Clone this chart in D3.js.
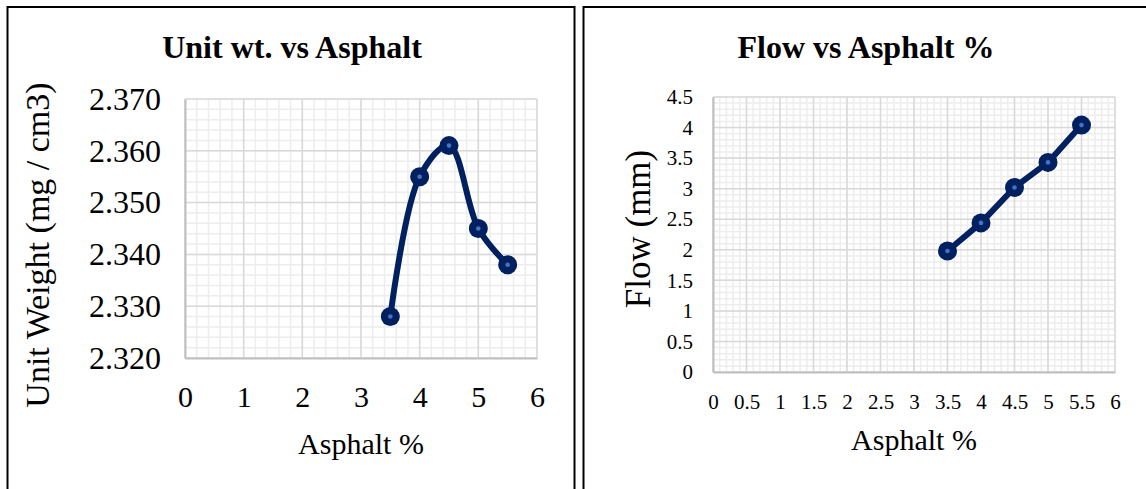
<!DOCTYPE html>
<html>
<head>
<meta charset="utf-8">
<script src="https://cdn.jsdelivr.net/npm/d3@7"></script>
<style>
  html, body { margin: 0; padding: 0; background: #fff; }
  svg { display: block; font-family: "Liberation Serif", "Times New Roman", serif; }
</style>
</head>
<body>
<svg id="chart" width="1146" height="489"></svg>
<script>
// Asphalt content (%) tested
const asphalt = [3.5, 4, 4.5, 5, 5.5];
// Unit weight (mg / cm3) per asphalt content
const unitWeight = [2.328, 2.355, 2.361, 2.345, 2.338];
// Flow (mm) per asphalt content
const flow = [1.98, 2.44, 3.02, 3.43, 4.04];

// Tick values
const unitXTicks = [0, 1, 2, 3, 4, 5, 6];
const unitYTicks = [2.320, 2.330, 2.340, 2.350, 2.360, 2.370];
const flowXTicks = [0, 0.5, 1, 1.5, 2, 2.5, 3, 3.5, 4, 4.5, 5, 5.5, 6];
const flowYTicks = [0, 0.5, 1, 1.5, 2, 2.5, 3, 3.5, 4, 4.5];

const svg = d3.select("#chart");
const lineColor = "#002060";
const dotColor = "#4472c4";

// Panel frames
svg.append("path")
  .attr("d", "M7.5,489 V7 H574.5 V489")
  .attr("fill", "none").attr("stroke", "#000").attr("stroke-width", 2);
svg.append("path")
  .attr("d", "M583.5,489 V7 H1146")
  .attr("fill", "none").attr("stroke", "#000").attr("stroke-width", 2);

function drawChart(cfg) {
  const g = svg.append("g");
  const x = d3.scaleLinear().domain(cfg.xDomain).range([cfg.left, cfg.right]);
  const y = d3.scaleLinear().domain(cfg.yDomain).range([cfg.bottom, cfg.top]);

  // minor gridlines
  const xMinor = d3.range(cfg.xDomain[0], cfg.xDomain[1] + 1e-9, cfg.xMinor);
  const yMinor = d3.range(cfg.yDomain[0], cfg.yDomain[1] + 1e-9, cfg.yMinor);
  g.append("g").selectAll("line").data(xMinor).join("line")
    .attr("x1", d => x(d)).attr("x2", d => x(d))
    .attr("y1", cfg.top).attr("y2", cfg.bottom)
    .attr("stroke", "#ededed").attr("stroke-width", 1.5);
  g.append("g").selectAll("line").data(yMinor).join("line")
    .attr("y1", d => y(d)).attr("y2", d => y(d))
    .attr("x1", cfg.left).attr("x2", cfg.right)
    .attr("stroke", "#ededed").attr("stroke-width", 1.5);

  // major gridlines
  g.append("g").selectAll("line").data(cfg.xTicks).join("line")
    .attr("x1", d => x(d)).attr("x2", d => x(d))
    .attr("y1", cfg.top).attr("y2", cfg.bottom)
    .attr("stroke", "#d9d9d9").attr("stroke-width", 1.5);
  g.append("g").selectAll("line").data(cfg.yTicks).join("line")
    .attr("y1", d => y(d)).attr("y2", d => y(d))
    .attr("x1", cfg.left).attr("x2", cfg.right)
    .attr("stroke", "#d9d9d9").attr("stroke-width", 1.5);

  // axes
  const xAxis = g.append("g").attr("transform", `translate(0,${cfg.bottom})`)
    .call(d3.axisBottom(x).tickValues(cfg.xTicks).tickSize(0).tickPadding(cfg.xPad)
      .tickFormat(cfg.xFormat));
  xAxis.select(".domain").attr("stroke", "#bfbfbf").attr("stroke-width", 2);
  xAxis.selectAll("text").attr("font-size", cfg.xFont).attr("fill", "#000")
    .attr("font-family", "Liberation Serif");

  const yAxis = g.append("g").attr("transform", `translate(${cfg.left},0)`)
    .call(d3.axisLeft(y).tickValues(cfg.yTicks).tickSize(0).tickPadding(cfg.yPad)
      .tickFormat(cfg.yFormat));
  yAxis.select(".domain").attr("stroke", "#bfbfbf").attr("stroke-width", 2);
  yAxis.selectAll("text").attr("font-size", cfg.yFont).attr("fill", "#000")
    .attr("font-family", "Liberation Serif");

  // series line
  const pts = cfg.xs.map((d, i) => [x(d), y(cfg.ys[i])]);
  g.append("path")
    .attr("d", d3.line().curve(cfg.curve)(pts))
    .attr("fill", "none").attr("stroke", lineColor)
    .attr("stroke-width", 6).attr("stroke-linejoin", "round").attr("stroke-linecap", "round");

  // markers
  g.append("g").selectAll("circle").data(pts).join("circle")
    .attr("cx", d => d[0]).attr("cy", d => d[1]).attr("r", 9.5).attr("fill", lineColor);
  g.append("g").selectAll("circle").data(pts).join("circle")
    .attr("cx", d => d[0]).attr("cy", d => d[1]).attr("r", 2.3).attr("fill", dotColor);

  // titles
  g.append("text").attr("x", cfg.titleX).attr("y", 58)
    .attr("text-anchor", "middle").attr("font-weight", "bold")
    .attr("font-size", 32).text(cfg.title);
  g.append("text").attr("x", (cfg.left + cfg.right) / 2).attr("y", cfg.xTitleY)
    .attr("text-anchor", "middle").attr("font-size", 30).text(cfg.xTitle);
  g.append("text")
    .attr("transform", `translate(${cfg.yTitleX},${cfg.yTitleY}) rotate(-90)`)
    .attr("text-anchor", "middle").attr("font-size", cfg.yTitleFont).text(cfg.yTitle);
}

drawChart({
  xs: asphalt, ys: unitWeight,
  xDomain: [0, 6], yDomain: [2.320, 2.370],
  xTicks: unitXTicks, yTicks: unitYTicks,
  xMinor: 0.2, yMinor: 0.002,
  left: 185, right: 537, top: 99, bottom: 358,
  xFormat: d3.format("d"), yFormat: d3.format(".3f"),
  xFont: 30, yFont: 32, xPad: 28, yPad: 24,
  curve: d3.curveCatmullRom.alpha(0.5),
  title: "Unit wt. vs Asphalt", titleX: 292,
  xTitle: "Asphalt %", xTitleY: 454,
  yTitle: "Unit Weight (mg / cm3)", yTitleX: 49, yTitleY: 245, yTitleFont: 34
});

drawChart({
  xs: asphalt, ys: flow,
  xDomain: [0, 6], yDomain: [0, 4.5],
  xTicks: flowXTicks, yTicks: flowYTicks,
  xMinor: 0.1, yMinor: 0.1,
  left: 713, right: 1115, top: 97, bottom: 372,
  xFormat: d3.format("~g"), yFormat: d3.format("~g"),
  xFont: 21, yFont: 21, xPad: 22, yPad: 20,
  curve: d3.curveLinear,
  title: "Flow vs Asphalt %", titleX: 866,
  xTitle: "Asphalt %", xTitleY: 450,
  yTitle: "Flow (mm)", yTitleX: 650, yTitleY: 229, yTitleFont: 35
});
</script>
</body>
</html>
